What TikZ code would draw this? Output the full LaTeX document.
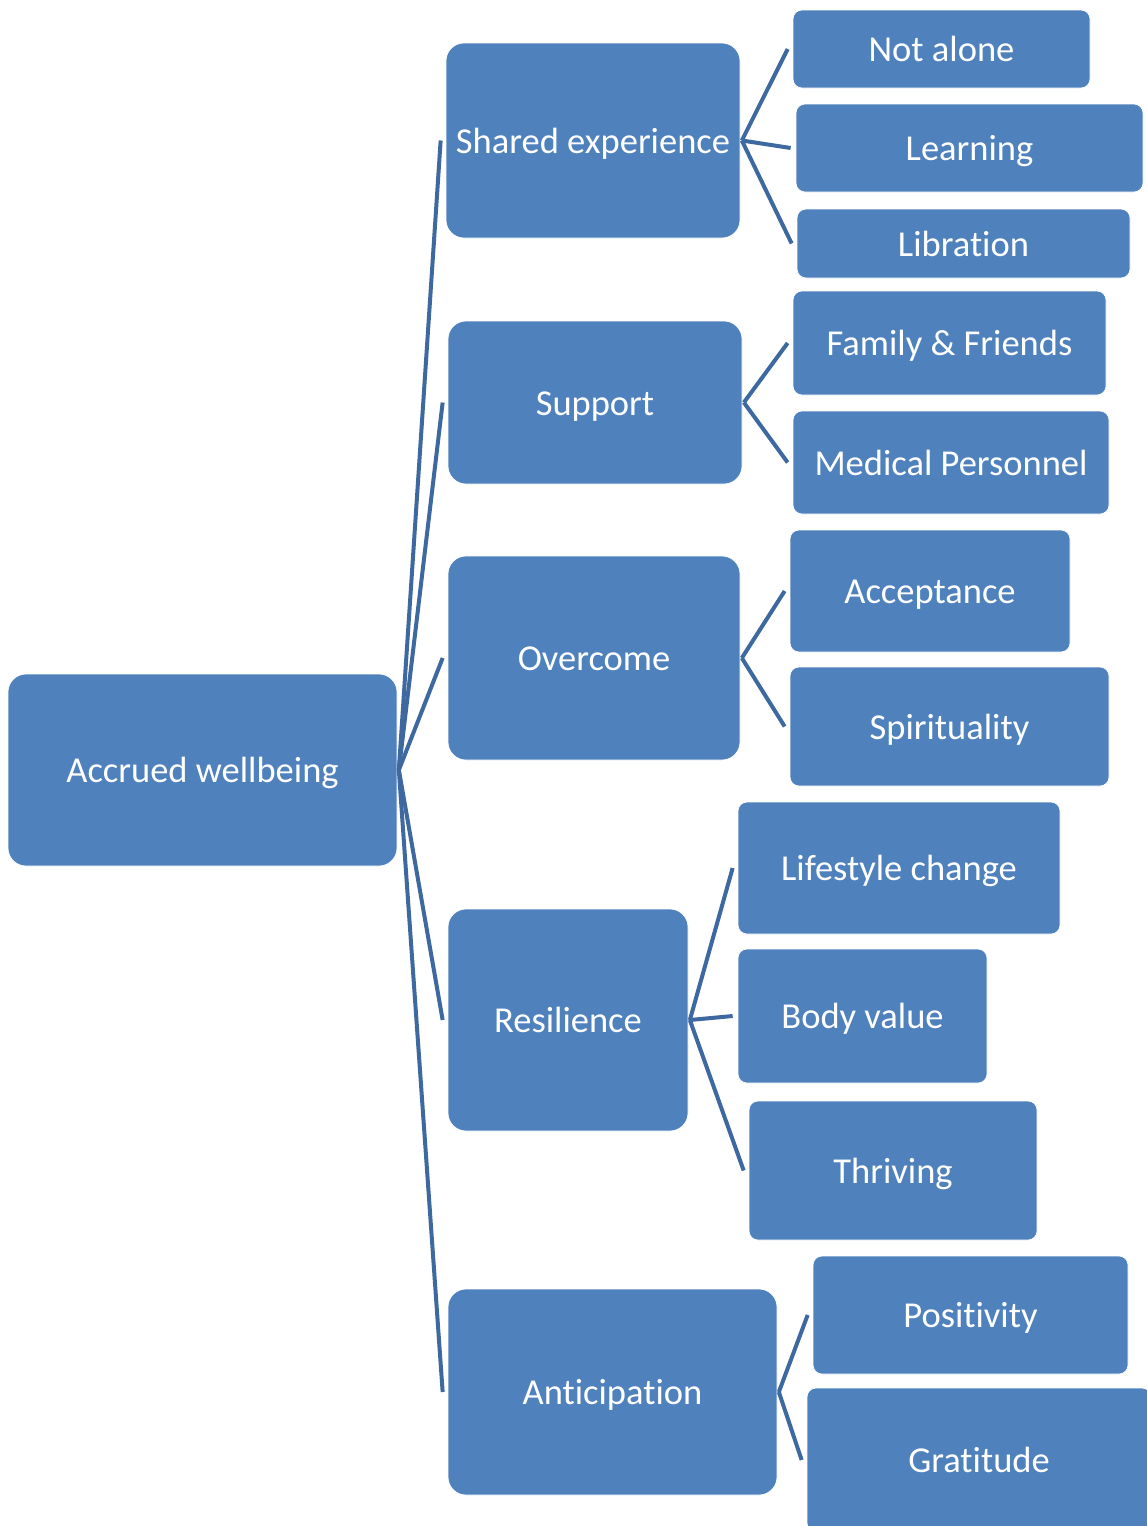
\documentclass[tikz,border=0pt]{standalone}
\usepackage{fontspec}
\setmainfont{Carlito}[Ligatures=NoCommon]
\usetikzlibrary{calc}
\definecolor{boxblue}{HTML}{4F81BD}
\definecolor{lineblue}{HTML}{3D69A0}
\tikzset{
  basebox/.style={fill=boxblue, draw=white, line width=0.7pt, text=white, inner sep=0pt,
    text height=30pt, text depth=4.5pt,
    font=\fontsize{36.5}{40}\selectfont},
  lvlone/.style={basebox, rounded corners=18pt},
  lvltwo/.style={basebox, rounded corners=9pt},
  conn/.style={draw=lineblue, line width=4pt, line cap=butt}
}
\newcommand\mkbox[7]{%
  \node[#7, minimum width={(#4-#2)*1pt}, minimum height={(#5-#3)*1pt}]
    (#1) at ({(#2+#4)/2},{-(#3+#5)/2}) {#6};}
\newcommand\link[2]{%
  \draw[conn] ($(#1.east)+(1.5,0)$) -- ($(#2.west)+(-5,0)$);}
\begin{document}
\begin{tikzpicture}[x=1pt,y=1pt]
\useasboundingbox (0,0) rectangle (1146,-1526);
% level 0
\mkbox{root}{8}{674}{397}{866}{Accrued wellbeing}{lvlone}
% level 1
\mkbox{shared}{446}{43}{740}{238}{Shared experience}{lvlone}
\mkbox{support}{448}{321}{742}{484}{Support}{lvlone}
\mkbox{overcome}{448}{556}{740}{760}{Overcome}{lvlone}
\mkbox{resil}{448}{909}{688}{1131}{Resilience}{lvlone}
\mkbox{antic}{448}{1289}{777}{1495}{Anticipation}{lvlone}
% level 2
\mkbox{notalone}{793}{10}{1090}{88}{Not alone}{lvltwo}
\mkbox{learning}{796}{104}{1143}{192}{Learning}{lvltwo}
\mkbox{libration}{797}{209}{1130}{278}{Libration}{lvltwo}
\mkbox{family}{793}{291}{1106}{395}{Family \& Friends}{lvltwo}
\mkbox{medical}{793}{411}{1109}{514}{Medical Personnel}{lvltwo}
\mkbox{accept}{790}{530}{1070}{652}{Acceptance}{lvltwo}
\mkbox{spirit}{790}{667}{1109}{786}{Spirituality}{lvltwo}
\mkbox{lifestyle}{738}{802}{1060}{934}{Lifestyle change}{lvltwo}
\mkbox{body}{738}{949}{987}{1083}{Body value}{lvltwo}
\mkbox{thriving}{749}{1101}{1037}{1240}{Thriving}{lvltwo}
\mkbox{positivity}{813}{1256}{1128}{1374}{Positivity}{lvltwo}
\mkbox{gratitude}{807}{1388}{1151}{1532}{Gratitude}{lvltwo}
% connectors
\link{root}{shared}
\link{root}{support}
\link{root}{overcome}
\link{root}{resil}
\link{root}{antic}
\link{shared}{notalone}
\link{shared}{learning}
\link{shared}{libration}
\link{support}{family}
\link{support}{medical}
\link{overcome}{accept}
\link{overcome}{spirit}
\link{resil}{lifestyle}
\link{resil}{body}
\link{resil}{thriving}
\link{antic}{positivity}
\link{antic}{gratitude}
\end{tikzpicture}
\end{document}
